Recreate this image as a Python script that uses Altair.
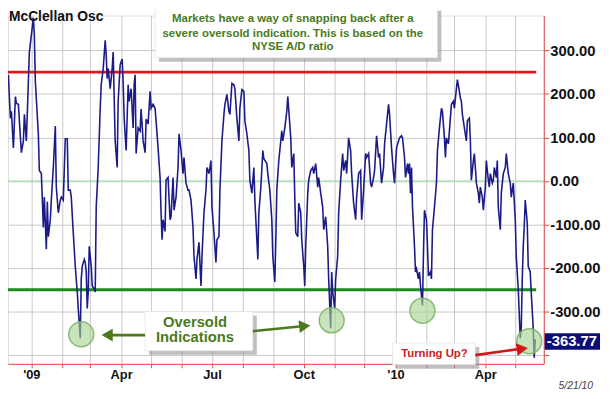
import altair as alt
import pandas as pd

# ---- series ----
dates = [
"2008-12-02","2008-12-03","2008-12-07","2008-12-08","2008-12-09","2008-12-10","2008-12-11","2008-12-12","2008-12-14","2008-12-16",
"2008-12-17","2008-12-19","2008-12-20","2008-12-22","2008-12-24","2008-12-25","2008-12-27","2008-12-29","2008-12-30","2009-01-01",
"2009-01-03","2009-01-04","2009-01-05","2009-01-08","2009-01-09","2009-01-11","2009-01-12","2009-01-13","2009-01-14","2009-01-16",
"2009-01-17","2009-01-18","2009-01-20","2009-01-21","2009-01-23","2009-01-25","2009-01-26","2009-01-28","2009-01-30","2009-01-31",
"2009-02-02","2009-02-04","2009-02-06","2009-02-07","2009-02-09","2009-02-10","2009-02-12","2009-02-14","2009-02-16","2009-02-17",
"2009-02-19","2009-02-20","2009-02-21","2009-02-23","2009-02-24","2009-02-25","2009-02-26","2009-02-27","2009-02-28","2009-03-02",
"2009-03-03","2009-03-05","2009-03-06","2009-03-07","2009-03-09","2009-03-11","2009-03-12","2009-03-14","2009-03-16","2009-03-17",
"2009-03-18","2009-03-19","2009-03-21","2009-03-23","2009-03-24","2009-03-26","2009-03-28","2009-03-29","2009-03-31","2009-04-02",
"2009-04-03","2009-04-04","2009-04-06","2009-04-08","2009-04-09","2009-04-11","2009-04-13","2009-04-14","2009-04-15","2009-04-16",
"2009-04-18","2009-04-20","2009-04-21","2009-04-23","2009-04-25","2009-04-26","2009-04-28","2009-04-30","2009-05-01","2009-05-03",
"2009-05-05","2009-05-06","2009-05-08","2009-05-10","2009-05-11","2009-05-12","2009-05-13","2009-05-15","2009-05-16","2009-05-18",
"2009-05-20","2009-05-21","2009-05-23","2009-05-24","2009-05-26","2009-05-28","2009-05-29","2009-05-31","2009-06-02","2009-06-03",
"2009-06-05","2009-06-07","2009-06-08","2009-06-10","2009-06-12","2009-06-13","2009-06-15","2009-06-16","2009-06-18","2009-06-20",
"2009-06-21","2009-06-23","2009-06-25","2009-06-26","2009-06-28","2009-06-30","2009-07-01","2009-07-03","2009-07-05","2009-07-06",
"2009-07-08","2009-07-09","2009-07-11","2009-07-13","2009-07-14","2009-07-16","2009-07-18","2009-07-19","2009-07-21","2009-07-23",
"2009-07-24","2009-07-26","2009-07-28","2009-07-29","2009-07-31","2009-08-02","2009-08-03","2009-08-05","2009-08-07","2009-08-08",
"2009-08-10","2009-08-12","2009-08-13","2009-08-15","2009-08-16","2009-08-17","2009-08-19","2009-08-21","2009-08-22","2009-08-25",
"2009-08-26","2009-08-28","2009-08-30","2009-08-31","2009-09-02","2009-09-03","2009-09-04","2009-09-06","2009-09-07","2009-09-09",
"2009-09-10","2009-09-12","2009-09-14","2009-09-15","2009-09-17","2009-09-18","2009-09-19","2009-09-21","2009-09-22","2009-09-23",
"2009-09-25","2009-09-26","2009-09-28","2009-09-29","2009-10-01","2009-10-02","2009-10-03","2009-10-05","2009-10-06","2009-10-08",
"2009-10-10","2009-10-11","2009-10-13","2009-10-15","2009-10-16","2009-10-18","2009-10-20","2009-10-21","2009-10-23","2009-10-25",
"2009-10-26","2009-10-28","2009-10-29","2009-10-30","2009-11-01","2009-11-02","2009-11-04","2009-11-05","2009-11-07","2009-11-09",
"2009-11-10","2009-11-12","2009-11-13","2009-11-15","2009-11-17","2009-11-18","2009-11-20","2009-11-22","2009-11-23","2009-11-25",
"2009-11-27","2009-11-28","2009-11-30","2009-12-02","2009-12-03","2009-12-05","2009-12-07","2009-12-08","2009-12-10","2009-12-11",
"2009-12-13","2009-12-15","2009-12-16","2009-12-18","2009-12-20","2009-12-21","2009-12-23","2009-12-25","2009-12-26","2009-12-28",
"2009-12-30","2009-12-31","2010-01-02","2010-01-04","2010-01-05","2010-01-07","2010-01-08","2010-01-10","2010-01-11","2010-01-13",
"2010-01-14","2010-01-15","2010-01-16","2010-01-17","2010-01-18","2010-01-20","2010-01-21","2010-01-22","2010-01-24","2010-01-25",
"2010-01-26","2010-01-28","2010-01-29","2010-01-30","2010-02-01","2010-02-02","2010-02-03","2010-02-05","2010-02-06","2010-02-07",
"2010-02-09","2010-02-11","2010-02-12","2010-02-14","2010-02-16","2010-02-17","2010-02-19","2010-02-20","2010-02-21","2010-02-23",
"2010-02-24","2010-02-26","2010-02-28","2010-03-01","2010-03-03","2010-03-04","2010-03-06","2010-03-07","2010-03-08","2010-03-09",
"2010-03-11","2010-03-13","2010-03-14","2010-03-16","2010-03-17","2010-03-18","2010-03-20","2010-03-21","2010-03-22","2010-03-23",
"2010-03-25","2010-03-26","2010-03-27","2010-03-29","2010-03-30","2010-04-01","2010-04-02","2010-04-04","2010-04-05","2010-04-06",
"2010-04-08","2010-04-09","2010-04-10","2010-04-12","2010-04-13","2010-04-14","2010-04-16","2010-04-17","2010-04-19","2010-04-21",
"2010-04-22","2010-04-24","2010-04-26","2010-04-27","2010-04-29","2010-05-01","2010-05-02","2010-05-04","2010-05-06","2010-05-07",
"2010-05-08","2010-05-09","2010-05-10","2010-05-11","2010-05-13","2010-05-14","2010-05-16","2010-05-17","2010-05-19","2010-05-20",
"2010-05-21",
]
osc = [
228,142,278,221,244,190,144,160,76,194,
178,176,138,65,92,153,92,228,296,335,
375,335,228,108,24,17,-44,-107,-37,-157,
-48,-128,-89,-44,31,126,-14,-73,-44,-37,
-44,97,97,-21,-21,-37,-119,-196,-255,-293,
-361,-225,-196,-180,-187,-209,-293,-255,-150,-196,
-241,-248,-255,-60,31,167,221,258,323,289,
235,258,212,258,296,92,31,183,267,280,
228,144,70,221,183,212,122,221,244,63,
122,115,165,92,65,142,131,206,167,176,
167,138,76,8,-73,-135,-89,-116,2,8,
-89,-82,8,-67,-37,31,108,70,17,54,
-5,-21,-21,-44,-105,-173,-225,-180,-141,-241,
-173,-73,-21,31,17,47,-60,-119,-187,-135,
-128,-21,92,153,176,199,160,153,224,221,
212,144,92,167,210,206,138,108,70,2,
-28,31,-44,-135,-180,-73,-14,70,51,40,
17,-21,-89,-173,-232,-135,-21,47,70,115,
92,122,160,194,131,99,31,63,-37,-119,
-128,-51,-73,-135,-196,-241,-150,-28,2,24,
31,17,40,-14,8,-28,-60,-112,-82,-150,
-225,-338,-209,-255,-293,-225,-173,-73,2,63,
24,47,17,99,70,17,-51,-89,-37,17,
24,-89,-21,63,54,63,-5,-14,8,24,
104,54,63,-5,31,85,131,176,153,76,
17,-5,76,92,99,104,99,54,8,40,
17,40,-28,31,-60,-150,-209,-202,-225,-209,
-241,-286,-164,-67,-89,-150,-218,-209,-225,-112,
-60,-5,70,122,167,160,99,54,99,85,
115,176,183,167,212,233,206,190,183,153,
122,92,138,144,92,2,47,63,31,-5,
-28,-51,-14,-37,-67,-14,47,2,-14,17,
-5,2,31,8,47,-60,-112,-28,17,31,
63,17,-5,-37,-5,-89,-173,-248,-361,-338,
-225,-150,-105,-44,-96,-196,-209,-255,-338,-406,
-363.77,
]

y_ticks = [-400, -300, -200, -100, 0, 100, 200, 300]
band_levels = [250, -250]
band_colors = ["#e3161c", "#1e8a1e"]
band_start = "2008-12-08"
band_end = "2010-05-22"

circle_dates = ["2009-02-20", "2009-10-29", "2010-01-28", "2010-05-15"]
circle_vals = [-352, -320, -298, -368]

title_text = "McClellan Osc"
note_lines = ["Markets have a way of snapping back after a",
              "severe oversold indication. This is based on the",
              "NYSE A/D ratio"]
note_date = "2009-09-20"
note_vals = [371, 338, 307]
callout_lines = ["Oversold", "Indications"]
callout_date = "2009-06-14"
callout_vals = [-323, -359]
turn_text = "Turning Up?"
turn_date = "2010-02-09"
turn_val = -397

box_start = ["2009-05-05", "2009-04-25", "2009-12-29"]
box_end = ["2010-02-12", "2009-08-11", "2010-03-22"]
box_top = [400, -300, -372]
box_bottom = [283, -390, -422]

shaft_ids = ["g1", "g1", "g2", "g2", "r", "r"]
shaft_dates = ["2009-04-25", "2009-03-18", "2009-08-11", "2009-10-02", "2010-03-22", "2010-05-08"]
shaft_vals = [-354, -354, -345, -333, -400, -385]
head_dates = ["2009-03-18", "2009-10-02", "2010-05-08"]
head_vals = [-354, -333, -385.5]
head_shapes = ["triangle-left", "triangle-right", "triangle-right"]
head_angles = [0, 354, 352]

GREEN_TXT = "#4b7a1d"
RED_TXT = "#c8201e"
ARROW_COLORS = {"g1": "#4b7a1d", "g2": "#4b7a1d", "r": "#d01818"}
FONT = "Liberation Sans"
W, H = 543, 353

# ---- scales / axes ----
x_scale = alt.Scale(type="utc", domain=[
    alt.DateTime(year=2008, month=12, date=8, hours=14, utc=True),
    alt.DateTime(year=2010, month=5, date=29, hours=14, utc=True)])
y_scale = alt.Scale(domain=[-420, 380], nice=False, zero=False)

x_axis = alt.Axis(
    title="5/21/10", titleX=575, titleY=22, titleAlign="center", titleBaseline="middle",
    titleFont=FONT, titleFontStyle="italic", titleFontWeight="normal", titleFontSize=10.5,
    titleColor="#444444",
    tickCount={"interval": "month", "step": 1},
    labelExpr="utcmonth(datum.value) == 0 ? \"'\" + utcFormat(datum.value, '%y') : (utcmonth(datum.value) % 3 == 0 ? utcFormat(datum.value, '%b') : '')",
    labelFont=FONT, labelFontSize=13, labelFontWeight="bold", labelColor="#111111",
    labelOverlap=False, labelFlush=False, labelPadding=1,
    tickColor="#e04848", tickSize=4, domainColor="#e04848", domainWidth=1,
    grid=True, gridColor="#c8c8c8", gridWidth=1)
y_axis = alt.Axis(
    orient="right", title=None, values=y_ticks,
    labelExpr="datum.value == -400 ? '' : datum.value + '.00'",
    labelFont=FONT, labelFontSize=15, labelFontWeight="bold", labelColor="#111111",
    labelPadding=1, labelFlush=False,
    tickColor="#e04848", tickSize=5, domainColor="#e04848", domainWidth=1,
    grid=True, gridColor="#c8c8c8", gridWidth=1)

X = alt.X("date:T", scale=x_scale, axis=x_axis)
Y = alt.Y("v:Q", scale=y_scale, axis=y_axis)

# ---- data frames ----
df = pd.DataFrame({"date": dates, "v": osc})
bands = pd.DataFrame({"date": [band_start] * 2, "date2": [band_end] * 2,
                      "v": band_levels, "c": band_colors})
circles = pd.DataFrame({"date": circle_dates, "v": circle_vals})
boxes = pd.DataFrame({"date": box_start, "date2": box_end, "v": box_top, "v2": box_bottom})
notes = pd.DataFrame({"date": [note_date] * 3, "v": note_vals, "t": note_lines})
callouts = pd.DataFrame({"date": [callout_date] * 2, "v": callout_vals, "t": callout_lines})
turn = pd.DataFrame({"date": [turn_date], "v": [turn_val], "t": [turn_text]})
shafts = pd.DataFrame({"id": shaft_ids, "date": shaft_dates, "v": shaft_vals,
                       "c": [ARROW_COLORS[i] for i in shaft_ids]})
heads = pd.DataFrame({"date": head_dates, "v": head_vals, "shape": head_shapes,
                      "ang": head_angles, "c": ["#4b7a1d", "#4b7a1d", "#d01818"]})
last_val = osc[-1]
tag = pd.DataFrame({"v": [last_val + 14], "v2": [last_val - 24]})
tag_text = pd.DataFrame({"v": [last_val], "t": [f"{last_val:.2f}"]})
title_df = pd.DataFrame({"t": [title_text]})

# ---- layers ----
zero = alt.Chart(pd.DataFrame({"v": [0]})).mark_rule(color="#9fdb9f", strokeWidth=1).encode(y=Y)

band_rules = alt.Chart(bands).mark_rule(strokeWidth=3, clip=True).encode(
    x=X, x2="date2:T", y=Y, color=alt.Color("c:N", scale=None))

line = alt.Chart(df).mark_line(color="#1b1b88", strokeWidth=1.6, clip=True).encode(x=X, y=Y)

circ = alt.Chart(circles).mark_circle(size=640, color="#a6d490", fillOpacity=0.62,
                                      stroke="#7fb56a", strokeWidth=1.5, strokeOpacity=0.9).encode(x=X, y=Y)

shadow = alt.Chart(boxes).mark_rect(color="#8c8c8c", opacity=0.55, xOffset=4, x2Offset=4,
                                    yOffset=4, y2Offset=4).encode(x=X, x2="date2:T", y=Y, y2="v2:Q")
box = alt.Chart(boxes).mark_rect(color="white", stroke="#dddddd", strokeWidth=0.6).encode(
    x=X, x2="date2:T", y=Y, y2="v2:Q")

note_txt = alt.Chart(notes).mark_text(font=FONT, fontSize=11.6, fontWeight="bold", color=GREEN_TXT,
                                      align="center", baseline="middle").encode(x=X, y=Y, text="t:N")
call_txt = alt.Chart(callouts).mark_text(font=FONT, fontSize=15, fontWeight="bold", color=GREEN_TXT,
                                         align="center", baseline="middle").encode(x=X, y=Y, text="t:N")
turn_txt = alt.Chart(turn).mark_text(font=FONT, fontSize=11.5, fontWeight="bold", color=RED_TXT,
                                     align="center", baseline="middle").encode(x=X, y=Y, text="t:N")

shaft = alt.Chart(shafts).mark_line(strokeWidth=2.6).encode(
    x=X, y=Y, detail="id:N", color=alt.Color("c:N", scale=None))
head = alt.Chart(heads).mark_point(filled=True, size=170, opacity=1).encode(
    x=X, y=Y, shape=alt.Shape("shape:N", scale=None), angle=alt.Angle("ang:Q", scale=None),
    color=alt.Color("c:N", scale=None))

tag_rect = alt.Chart(tag).mark_rect(color="#0d0d7a").encode(
    x=alt.value(W + 1), x2=alt.value(W + 57), y=Y, y2="v2:Q")
tag_lbl = alt.Chart(tag_text).mark_text(font=FONT, fontSize=15, fontWeight="bold", color="white",
                                        align="left", baseline="middle", dy=2).encode(
    x=alt.value(W + 3), y=Y, text="t:N")

title = alt.Chart(title_df).mark_text(font=FONT, fontSize=14, fontWeight="bold", color="#111111",
                                      align="left", baseline="top").encode(
    x=alt.value(1), y=alt.value(-5), text="t:N")

chart = alt.layer(
    zero, band_rules, line, circ, shadow, box, note_txt, call_txt, turn_txt,
    shaft, head, tag_rect, tag_lbl, title
).properties(
    width=W, height=H,
    padding={"left": 0, "top": 5, "right": 59, "bottom": 33},
    autosize=alt.AutoSizeParams(type="none"),
).configure_view(strokeWidth=0).configure(font=FONT, background="white")

chart.save("out.html", embed_options={"renderer": "svg", "actions": False})
